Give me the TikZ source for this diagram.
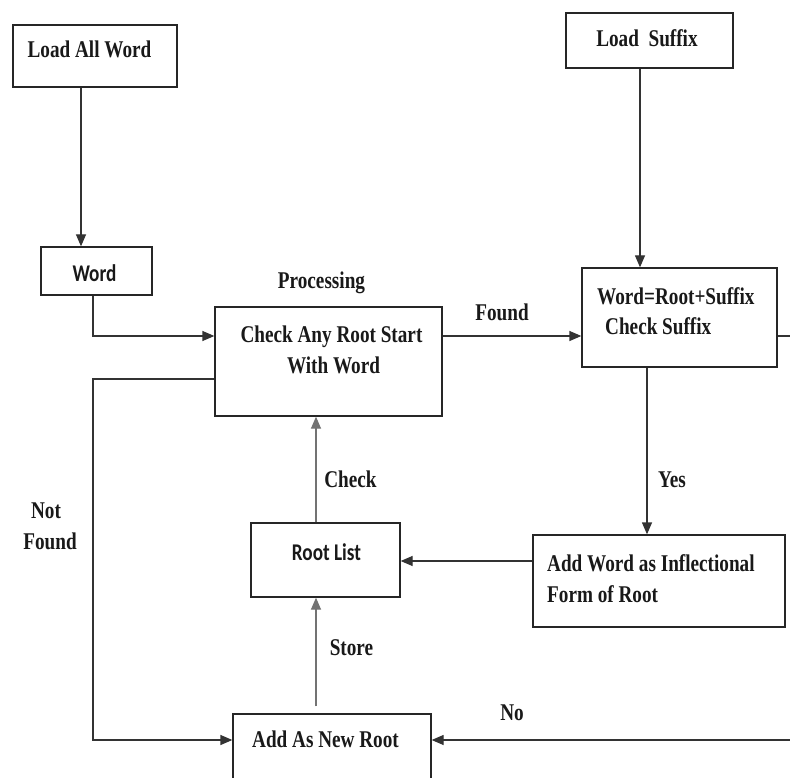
\documentclass[tikz,border=0pt]{standalone}
\usepackage{fontspec}
\usetikzlibrary{arrows.meta}
\newfontfamily\tf{Liberation Serif}[FakeStretch=0.8]
\newfontfamily\cf{Carlito}[FakeStretch=0.8]
\begin{document}
\begin{tikzpicture}[x=1pt,y=-1pt,
  box/.style={draw=black!85,line width=1.3pt,rectangle,inner sep=0pt},
  lbl/.style={inner sep=0pt,anchor=base,font=\tf\bfseries\fontsize{24}{31}\selectfont,text=black!90},
  slbl/.style={inner sep=0pt,anchor=base,font=\cf\bfseries\fontsize{24}{31}\selectfont,text=black!90},
  con/.style={draw=black!80,line width=1.3pt},
  arr/.style={con,-{Triangle[length=12pt,width=10pt]}},
  garr/.style={arr,draw=black!55}]
\path[use as bounding box] (0,0) rectangle (790,778);
\clip (0,0) rectangle (790,778);
% boxes
\node[box,minimum width=164pt,minimum height=62pt] (lw) at (95,56) {};
\node[box,minimum width=111pt,minimum height=48pt] (word) at (96.5,271) {};
\node[box,minimum width=227pt,minimum height=109pt] (check) at (328.5,361.5) {};
\node[box,minimum width=167pt,minimum height=55pt] (ls) at (649.5,40.5) {};
\node[box,minimum width=195pt,minimum height=99pt] (wrs) at (679.5,317.5) {};
\node[box,minimum width=252pt,minimum height=92pt] (aw) at (659,581) {};
\node[box,minimum width=149pt,minimum height=74pt] (rl) at (325.5,560) {};
\node[box,minimum width=198pt,minimum height=92pt] (anr) at (332,760) {};
% texts
\node[lbl] (t1) at (89.5,58) {Load All Word};
\node[slbl] (t2) at (94.5,281) {Word};
\node[lbl] (t3) at (321.5,288) {Processing};
\node[lbl] (t4a) at (331.5,342) {Check Any Root Start};
\node[lbl] (t4b) at (333.5,373) {With Word};
\node[lbl] (t5) at (502,320) {Found};
\node[lbl] (t6) at (647,47) {Load\ \ Suffix};
\node[lbl,anchor=base west] (t7a) at (597,304) {Word=Root+Suffix};
\node[lbl,anchor=base west] (t7b) at (605,334) {Check Suffix};
\node[lbl] (t8) at (672,487) {Yes};
\node[lbl,anchor=base west] (t9a) at (547,571) {Add Word as Inflectional};
\node[lbl,anchor=base west] (t9b) at (547,602) {Form of Root};
\node[lbl] (t10) at (350.5,487) {Check};
\node[lbl] (t11a) at (46,518) {Not};
\node[lbl] (t11b) at (50,549) {Found};
\node[slbl] (t12) at (326.5,560) {Root List};
\node[lbl] (t13) at (351.5,655) {Store};
\node[lbl,anchor=base west] (t14) at (252,747) {Add As New Root};
\node[lbl] (t15) at (512,720) {No};
% free ends
\coordinate (eR1) at (790,336);
\coordinate (eR2) at (790,740);
\coordinate (nf) at (93,740);
% connectors
\draw[arr] (lw.south -| 81,0) -- (word.north -| 81,0);
\draw[arr] (word.south -| 93,0) |- (check.west |- 0,336);
\draw[arr] (check.east |- 0,336) -- (wrs.west |- 0,336);
\draw[arr] (ls.south -| 640,0) -- (wrs.north -| 640,0);
\draw[con] (wrs.east |- eR1) -- (eR1);
\draw[arr] (wrs.south -| 647,0) -- (aw.north -| 647,0);
\draw[arr] (aw.west |- 0,561) -- (rl.east |- 0,561);
\draw[garr] (rl.north -| 316,0) -- (check.south -| 316,0);
\draw[garr,shorten <=7pt] (anr.north -| 316,0) -- (rl.south -| 316,0);
\draw[arr] (check.west |- 0,379) -| (nf) -- (anr.west |- nf);
\draw[arr] (eR2) -- (anr.east |- eR2);
\end{tikzpicture}
\end{document}
